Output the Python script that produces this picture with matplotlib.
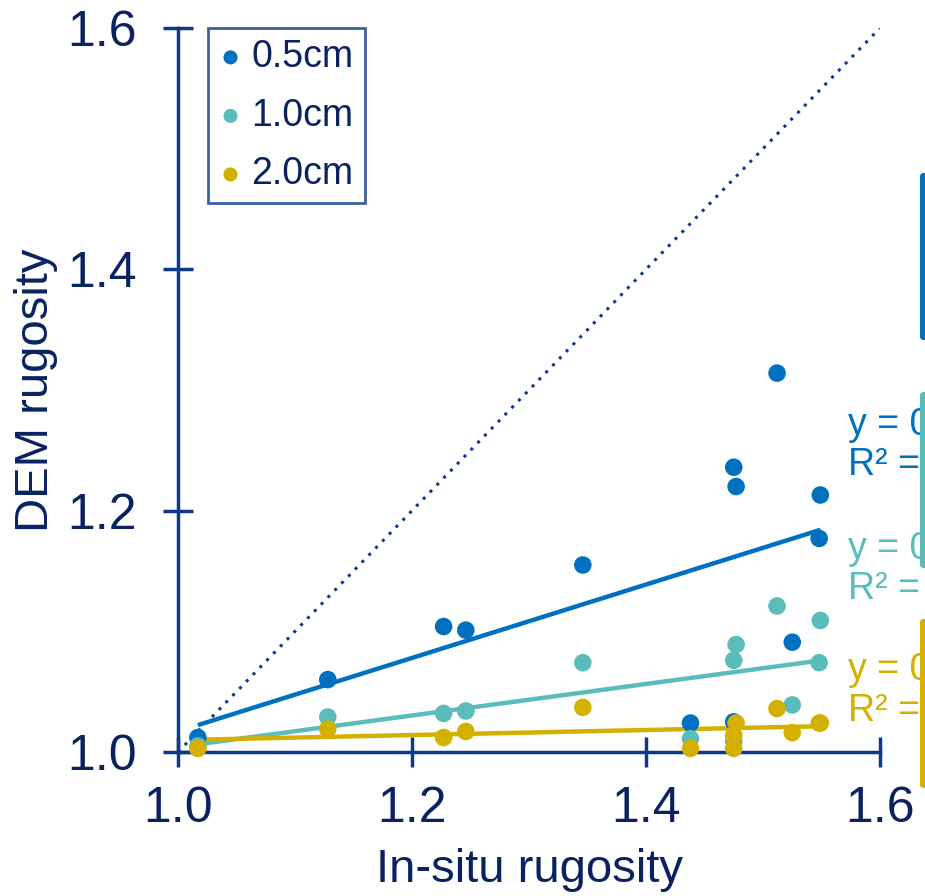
import numpy as np
import matplotlib
matplotlib.use("Agg")
import matplotlib.pyplot as plt
from matplotlib.patches import FancyBboxPatch

plt.rcParams['font.family'] = ['Liberation Sans', 'DejaVu Sans']

insitu = [1.017, 1.128, 1.227, 1.246, 1.346, 1.438, 1.475, 1.475, 1.477, 1.512, 1.525, 1.548, 1.549]
dem_05 = [1.012, 1.060, 1.104, 1.101, 1.155, 1.024, 1.236, 1.025, 1.220, 1.314, 1.091, 1.177, 1.213]
dem_10 = [1.005, 1.029, 1.032, 1.034, 1.074, 1.011, 1.076, 1.009, 1.089, 1.121, 1.039, 1.074, 1.109]
dem_20 = [1.003, 1.019, 1.012, 1.017, 1.037, 1.003, 1.014, 1.003, 1.024, 1.036, 1.016, 1.024, 1.024]
labels = ['0.5cm', '1.0cm', '2.0cm']
colors = ['#0070C0', '#5BBCBC', '#D4B000']
ticks = [1.0, 1.2, 1.4, 1.6]

navy = '#0B3A8C'
textc = '#0A2260'

W, H = 925, 896
fig = plt.figure(figsize=(W/100, H/100), dpi=100)
ax = fig.add_axes([178/W, 1-752/H, (880-178)/W, (752-28)/H])
ax.set_xlim(1.0, 1.6)
ax.set_ylim(1.0, 1.6)

x = np.array(insitu)
ax.plot([1.0, 1.6], [1.0, 1.6], linestyle=(0, (1, 2.2)), color=navy, lw=2.2, zorder=1)

series = [dem_05, dem_10, dem_20]
fits = []
for ys, c, lab in zip(series, colors, labels):
    ys = np.array(ys)
    ax.scatter(x, ys, s=160, color=c, edgecolors='none', zorder=3, label=lab, clip_on=False)
    m, b = np.polyfit(x, ys, 1)
    fits.append((m, b, np.corrcoef(x, ys)[0, 1]**2))
    xx = np.array([x.min(), x.max()])
    ax.plot(xx, m*xx + b, color=c, lw=3.2, zorder=2, solid_capstyle='butt')

for s in ['top', 'right']:
    ax.spines[s].set_visible(False)
for s in ['left', 'bottom']:
    ax.spines[s].set_color(navy)
    ax.spines[s].set_linewidth(2.5)

ax.set_xticks(ticks)
ax.set_yticks(ticks)
ax.set_xticklabels([f'{t:.1f}' for t in ticks])
ax.set_yticklabels([f'{t:.1f}' for t in ticks])
ax.tick_params(axis='both', direction='inout', length=21, width=2.5, color=navy,
               labelsize=36, labelcolor=textc)
ax.tick_params(axis='y', pad=19)
ax.tick_params(axis='x', pad=14)

ax.set_xlabel('In-situ rugosity', fontsize=34, color=textc)
ax.set_ylabel('DEM rugosity', fontsize=34, color=textc)
ax.xaxis.set_label_coords(0.5, -0.133)
ax.yaxis.set_label_coords(-0.171, 0.5)

leg = ax.legend(loc='upper left', bbox_to_anchor=((208-178)/702, 1.0), fontsize=27,
                frameon=True, fancybox=False, handletextpad=0.25, borderpad=0.3,
                labelspacing=0.6, markerscale=0.8, handlelength=0.6, borderaxespad=0,
                labelcolor=textc)
leg.get_frame().set_edgecolor(navy)
leg.get_frame().set_linewidth(2)

# trendline equation boxes (cut off at right edge)
eq_y = [(425, 465), (549, 589), (670, 711)]
bars = [(173, 340), (392, 568), (619, 788)]
for (m, b, r2), c, (y1, y2), (b0, b1) in zip(fits, colors, eq_y, bars):
    fig.text(848/W, 1-y1/H, f'y = {m:.4f}x + {b:.4f}', color=c, fontsize=27, va='center', ha='left', zorder=3)
    fig.text(848/W, 1-y2/H, f'R² = {r2:.4f}', color=c, fontsize=27, va='center', ha='left', zorder=3)
    p = FancyBboxPatch((920/W, 1-b1/H), 60/W, (b1-b0)/H, boxstyle='round,pad=0,rounding_size=0.004',
                       transform=fig.transFigure, facecolor=c, edgecolor='none', clip_on=False, zorder=6)
    fig.patches.append(p)

fig.savefig('out.png', dpi=100)
